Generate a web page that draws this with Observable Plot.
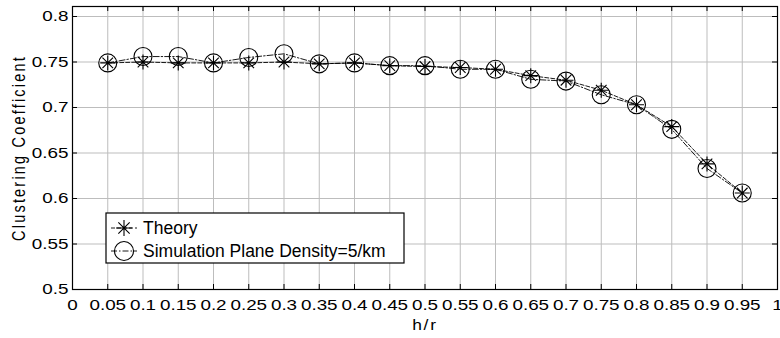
<!DOCTYPE html>
<html>
<head>
<meta charset="utf-8">
<script src="https://cdn.jsdelivr.net/npm/d3@7"></script>
<script src="https://cdn.jsdelivr.net/npm/@observablehq/plot@0.6"></script>
<style>
  html, body { margin: 0; padding: 0; background: #fff; }
  #chart { position: relative; width: 780px; height: 338px; }
</style>
</head>
<body>
<div id="chart"></div>
<script>
const hr = [0.05, 0.1, 0.15, 0.2, 0.25, 0.3, 0.35, 0.4, 0.45, 0.5, 0.55, 0.6, 0.65, 0.7, 0.75, 0.8, 0.85, 0.9, 0.95];
const theory = [0.749, 0.750, 0.749, 0.749, 0.749, 0.750, 0.748, 0.749, 0.746, 0.745, 0.744, 0.742, 0.735, 0.730, 0.719, 0.703, 0.679, 0.638, 0.606];
const simulation = [0.749, 0.756, 0.756, 0.749, 0.755, 0.759, 0.748, 0.749, 0.746, 0.746, 0.742, 0.742, 0.731, 0.729, 0.714, 0.703, 0.676, 0.633, 0.606];
const xTicks = [0, 0.05, 0.1, 0.15, 0.2, 0.25, 0.3, 0.35, 0.4, 0.45, 0.5, 0.55, 0.6, 0.65, 0.7, 0.75, 0.8, 0.85, 0.9, 0.95, 1];
const xTickLabels = ["0", "0.05", "0.1", "0.15", "0.2", "0.25", "0.3", "0.35", "0.4", "0.45", "0.5", "0.55", "0.6", "0.65", "0.7", "0.75", "0.8", "0.85", "0.9", "0.95", "1"];
const yTicks = [0.5, 0.55, 0.6, 0.65, 0.7, 0.75, 0.8];
const yTickLabels = ["0.5", "0.55", "0.6", "0.65", "0.7", "0.75", "0.8"];
const seriesNames = ["Theory", "Simulation Plane Density=5/km"];
const xTitle = "h/r";
const yTitle = "Clustering Coefficient";

const theoryData = hr.map((x, i) => ({x, y: theory[i]}));
const simData = hr.map((x, i) => ({x, y: simulation[i]}));

const asterisk = {
  draw(context, size) {
    const r = Math.sqrt(size / Math.PI);
    const d = r * Math.SQRT1_2;
    context.moveTo(-r, 0); context.lineTo(r, 0);
    context.moveTo(0, -r); context.lineTo(0, r);
    context.moveTo(-d, -d); context.lineTo(d, d);
    context.moveTo(-d, d); context.lineTo(d, -d);
  }
};

const W = 780, H = 338, mL = 72, mR = 3, mT = 6, mB = 49;
const fw = W - mL - mR, fh = H - mT - mB;
const FONT = "'Liberation Sans', Arial, sans-serif";

const plot = Plot.plot({
  width: W, height: H,
  marginLeft: mL, marginRight: mR, marginTop: mT, marginBottom: mB,
  style: {fontFamily: FONT, fontSize: "14.5px", color: "#000", background: "#fff"},
  x: {domain: [0, 1]},
  y: {domain: [0.5, 0.811]},
  marks: [
    Plot.gridX(xTicks, {stroke: "#bdbdbd", strokeOpacity: 1, strokeWidth: 1}),
    Plot.gridY(yTicks, {stroke: "#bdbdbd", strokeOpacity: 1, strokeWidth: 1}),
    Plot.line(theoryData, {x: "x", y: "y", stroke: "#000", strokeWidth: 0.9, strokeDasharray: "4,2"}),
    Plot.line(simData, {x: "x", y: "y", stroke: "#000", strokeWidth: 0.9, strokeDasharray: "6,2,1.5,2"}),
    Plot.dot(theoryData, {x: "x", y: "y", symbol: asterisk, r: 7.5, stroke: "#000", strokeWidth: 1.1, fill: "none"}),
    Plot.dot(simData, {x: "x", y: "y", symbol: "circle", r: 9, stroke: "#000", strokeWidth: 1.1, fill: "none"}),
    Plot.frame({stroke: "#000", strokeWidth: 1.2}),
    Plot.tickX(xTicks, {x: d => d, insetTop: fh - 5, stroke: "#000"}),
    Plot.tickX(xTicks, {x: d => d, insetBottom: fh - 5, stroke: "#000"}),
    Plot.tickY(yTicks, {y: d => d, insetRight: fw - 5, stroke: "#000"}),
    Plot.tickY(yTicks, {y: d => d, insetLeft: fw - 5, stroke: "#000"}),
    Plot.axisX(xTicks, {tickSize: 0, tickPadding: 10, tickFormat: (d, i) => xTickLabels[i], label: null}),
    Plot.axisY(yTicks, {tickSize: 0, tickPadding: 4, tickFormat: (d, i) => yTickLabels[i], label: null}),
    Plot.text([xTitle], {frameAnchor: "bottom", dy: 36, lineAnchor: "middle", textAnchor: "middle", fontSize: 14.5}),
    Plot.text([yTitle], {frameAnchor: "left", dx: -54, rotate: -90, lineAnchor: "middle", textAnchor: "middle", fontSize: 14.5})
  ]
});

// Widen axis texts to mimic the original's stretched glyphs
plot.querySelectorAll("text").forEach(t => {
  t.setAttribute("font-size", "14.5");
  t.setAttribute("font-family", FONT);
  const tr = t.getAttribute("transform") || "";
  if (tr.includes("rotate")) {
    t.setAttribute("transform", tr + " scale(1,1.3)");
    t.setAttribute("letter-spacing", "2.2");
  } else if (t.textContent === xTitle) {
    t.setAttribute("letter-spacing", "1.5");
    t.setAttribute("transform", tr + " scale(1.2,1)");
  } else {
    t.setAttribute("transform", tr + " scale(1.3,1)");
  }
});

// Legend inside the plot area
const svg = d3.select(plot);
const lg = svg.append("g").attr("class", "legend");
const lx = 106, ly = 213, lw = 298, lh = 50;
lg.append("rect").attr("x", lx).attr("y", ly).attr("width", lw).attr("height", lh)
  .attr("fill", "#fff").attr("stroke", "#000").attr("stroke-width", 1.2);
const rows = [
  {name: seriesNames[0], dash: "4,2", sym: "star", cy: ly + 15},
  {name: seriesNames[1], dash: "6,2,1.5,2", sym: "circle", cy: ly + 38}
];
rows.forEach(r => {
  lg.append("line").attr("x1", lx + 5).attr("x2", lx + 31).attr("y1", r.cy).attr("y2", r.cy)
    .attr("stroke", "#000").attr("stroke-width", 0.9).attr("stroke-dasharray", r.dash);
  const cx = lx + 18;
  if (r.sym === "star") {
    const p = d3.path();
    asterisk.draw(p, Math.PI * 8 * 8);
    lg.append("path").attr("d", p.toString()).attr("transform", `translate(${cx},${r.cy})`)
      .attr("stroke", "#000").attr("stroke-width", 1.1).attr("fill", "none");
  } else {
    lg.append("circle").attr("cx", cx).attr("cy", r.cy).attr("r", 9.5)
      .attr("stroke", "#000").attr("stroke-width", 1.1).attr("fill", "none");
  }
  lg.append("text").attr("x", lx + 37).attr("y", r.cy).attr("dy", "0.35em")
    .attr("text-anchor", "start").attr("font-family", FONT)
    .attr("font-size", 17.5).attr("fill", "#000").text(r.name);
});

document.getElementById("chart").appendChild(plot);
</script>
</body>
</html>
